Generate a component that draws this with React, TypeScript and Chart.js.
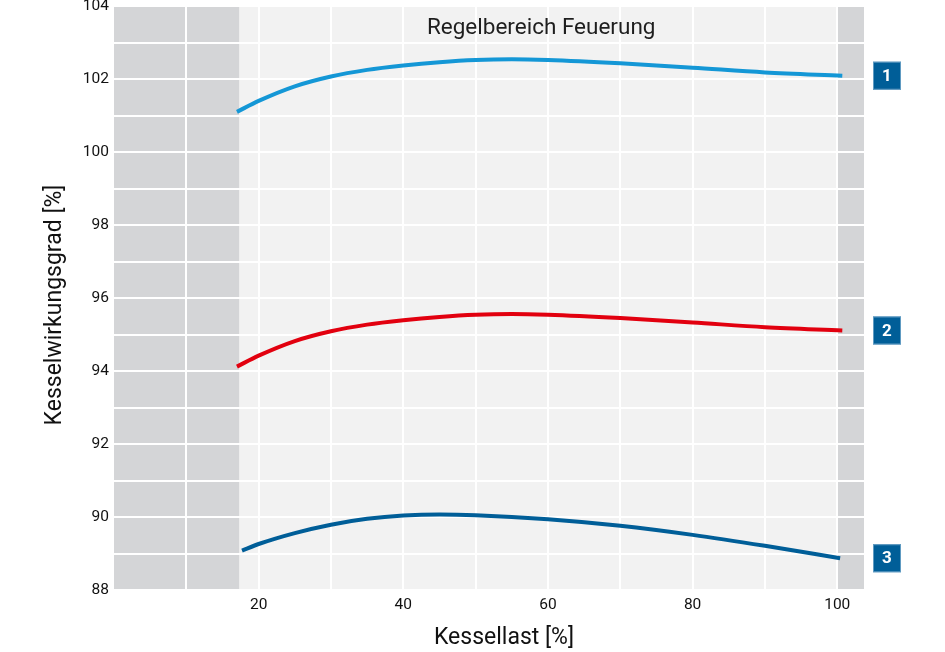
import React, { useEffect, useRef } from 'react';
import { Chart, registerables } from 'chart.js';

Chart.register(...registerables);

// Kessellast [%] (x) for curves 1 and 2
const loadA = [17, 20, 25, 30, 35, 40, 45, 50, 55, 60, 70, 80, 90, 100.7];
// Kesselwirkungsgrad [%] curves
const curve1 = [101.1, 101.4, 101.8, 102.07, 102.25, 102.37, 102.46, 102.52, 102.54, 102.52, 102.43, 102.31, 102.18, 102.09];
const curve2 = [94.12, 94.42, 94.82, 95.09, 95.27, 95.39, 95.48, 95.54, 95.56, 95.54, 95.45, 95.33, 95.2, 95.11];
// Kessellast [%] (x) for curve 3
const loadB = [17.7, 20, 25, 30, 35, 40, 45, 50, 60, 70, 80, 90, 100.4];
const curve3 = [89.08, 89.26, 89.56, 89.79, 89.95, 90.04, 90.07, 90.05, 89.94, 89.76, 89.51, 89.21, 88.87];

const seriesBadges = ['1', '2', '3'];
const seriesColors = ['#1497d6', '#e2000f', '#005e98'];

const xGridTicks = [10, 20, 30, 40, 50, 60, 70, 80, 90, 100];
const xTickLabels = [20, 40, 60, 80, 100];
const yTickLabels = [88, 90, 92, 94, 96, 98, 100, 102, 104];

const xMin = 0;
const xMax = 103.7;
const yMin = 88;
const yMax = 104;

// Regelbereich Feuerung (control range) on the load axis
const controlRange = [17.3, 100];
const regionLabel = 'Regelbereich Feuerung';
const xTitle = 'Kessellast [%]';
const yTitle = 'Kesselwirkungsgrad [%]';

const FONT = 'Roboto, "Liberation Sans", Arial, sans-serif';

const backgroundPlugin = {
  id: 'bgBands',
  beforeDraw(chart: any) {
    const { ctx, chartArea, scales } = chart;
    const x = scales.x;
    ctx.save();
    ctx.fillStyle = '#f2f2f2';
    ctx.fillRect(chartArea.left, chartArea.top, chartArea.right - chartArea.left, chartArea.bottom - chartArea.top);
    ctx.fillStyle = '#d4d5d7';
    const x0 = x.getPixelForValue(xMin);
    const x1 = x.getPixelForValue(controlRange[0]);
    ctx.fillRect(x0, chartArea.top, x1 - x0, chartArea.bottom - chartArea.top);
    const x2 = x.getPixelForValue(controlRange[1]);
    const x3 = x.getPixelForValue(xMax);
    ctx.fillRect(x2, chartArea.top, x3 - x2, chartArea.bottom - chartArea.top);
    ctx.restore();
  },
  afterDraw(chart: any) {
    const { ctx, chartArea, scales } = chart;
    const x = scales.x;
    ctx.save();
    // region label
    const cx = x.getPixelForValue((controlRange[0] + controlRange[1]) / 2) + 3;
    ctx.font = `22.5px ${FONT}`;
    ctx.fillStyle = '#1e1e1e';
    ctx.textAlign = 'center';
    ctx.textBaseline = 'alphabetic';
    ctx.fillText(regionLabel, cx, chartArea.top + 28);

    // axis titles
    ctx.font = `23px ${FONT}`;
    ctx.fillStyle = '#111';
    ctx.textBaseline = 'middle';
    ctx.fillText(xTitle, (chartArea.left + chartArea.right) / 2 + 15, chartArea.bottom + 48);
    ctx.save();
    ctx.translate(55, (chartArea.top + chartArea.bottom) / 2 + 7);
    ctx.rotate(-Math.PI / 2);
    ctx.fillText(yTitle, 0, 0);
    ctx.restore();

    // badges
    chart.data.datasets.forEach((ds: any, i: number) => {
      const meta = chart.getDatasetMeta(i);
      const pts = meta.data;
      const last = pts[pts.length - 1];
      const size = 28;
      const bx = chartArea.right + 9;
      const by = last.y - size / 2;
      ctx.fillStyle = '#005e98';
      ctx.fillRect(bx, by, size, size);
      ctx.strokeStyle = 'rgba(120,170,205,0.8)';
      ctx.lineWidth = 1;
      ctx.strokeRect(bx + 0.5, by + 0.5, size - 1, size - 1);
      ctx.fillStyle = '#ffffff';
      ctx.font = `bold 17px ${FONT}`;
      ctx.textAlign = 'center';
      ctx.textBaseline = 'middle';
      ctx.fillText(seriesBadges[i], bx + size / 2, by + size / 2 + 1);
    });
    ctx.restore();
  },
};

export default function App() {
  const canvasRef = useRef<HTMLCanvasElement | null>(null);

  useEffect(() => {
    const canvas = canvasRef.current;
    if (!canvas) return;

    const mk = (xs: number[], ys: number[]) => xs.map((v, i) => ({ x: v, y: ys[i] }));

    const chart = new Chart(canvas, {
      type: 'line',
      data: {
        datasets: [
          { label: seriesBadges[0], data: mk(loadA, curve1), borderColor: seriesColors[0] },
          { label: seriesBadges[1], data: mk(loadA, curve2), borderColor: seriesColors[1] },
          { label: seriesBadges[2], data: mk(loadB, curve3), borderColor: seriesColors[2] },
        ].map((d) => ({
          ...d,
          borderWidth: 4,
          pointRadius: 0,
          fill: false,
          cubicInterpolationMode: 'monotone' as const,
          borderCapStyle: 'butt' as const,
        })),
      },
      options: {
        responsive: false,
        animation: false,
        layout: { padding: { top: 6, right: 81, left: 0, bottom: 0 } },
        plugins: {
          legend: { display: false },
          tooltip: { enabled: false },
        },
        scales: {
          x: {
            type: 'linear',
            min: xMin,
            max: xMax,
            afterBuildTicks: (s: any) => {
              s.ticks = xGridTicks.map((v) => ({ value: v }));
            },
            afterFit: (s: any) => {
              s.height = 62;
              s.paddingLeft = 0;
              s.paddingRight = 0;
            },
            ticks: {
              autoSkip: false,
              maxRotation: 0,
              padding: 6,
              color: '#111',
              font: { family: FONT, size: 15.5 },
              callback: (v: any) => (xTickLabels.includes(Number(v)) ? String(v) : ''),
            },
            grid: { color: '#ffffff', lineWidth: 2, drawTicks: false },
            border: { display: false },
            title: { display: false },
          },
          y: {
            type: 'linear',
            min: yMin,
            max: yMax,
            afterFit: (s: any) => {
              s.width = 114;
              s.paddingTop = 0;
              s.paddingBottom = 0;
            },
            ticks: {
              stepSize: 1,
              autoSkip: false,
              padding: 5,
              color: '#111',
              font: { family: FONT, size: 15.5 },
              callback: (v: any) => (yTickLabels.includes(Number(v)) ? String(v) : ''),
            },
            grid: { color: '#ffffff', lineWidth: 2, drawTicks: false },
            border: { display: false },
            title: { display: false },
          },
        },
      },
      plugins: [backgroundPlugin],
    } as any);

    return () => chart.destroy();
  }, []);

  return (
    <div style={{ position: 'absolute', left: 0, top: 0, width: 945, height: 652 }}>
      <canvas ref={canvasRef} width={945} height={652} style={{ display: 'block' }} />
    </div>
  );
}
